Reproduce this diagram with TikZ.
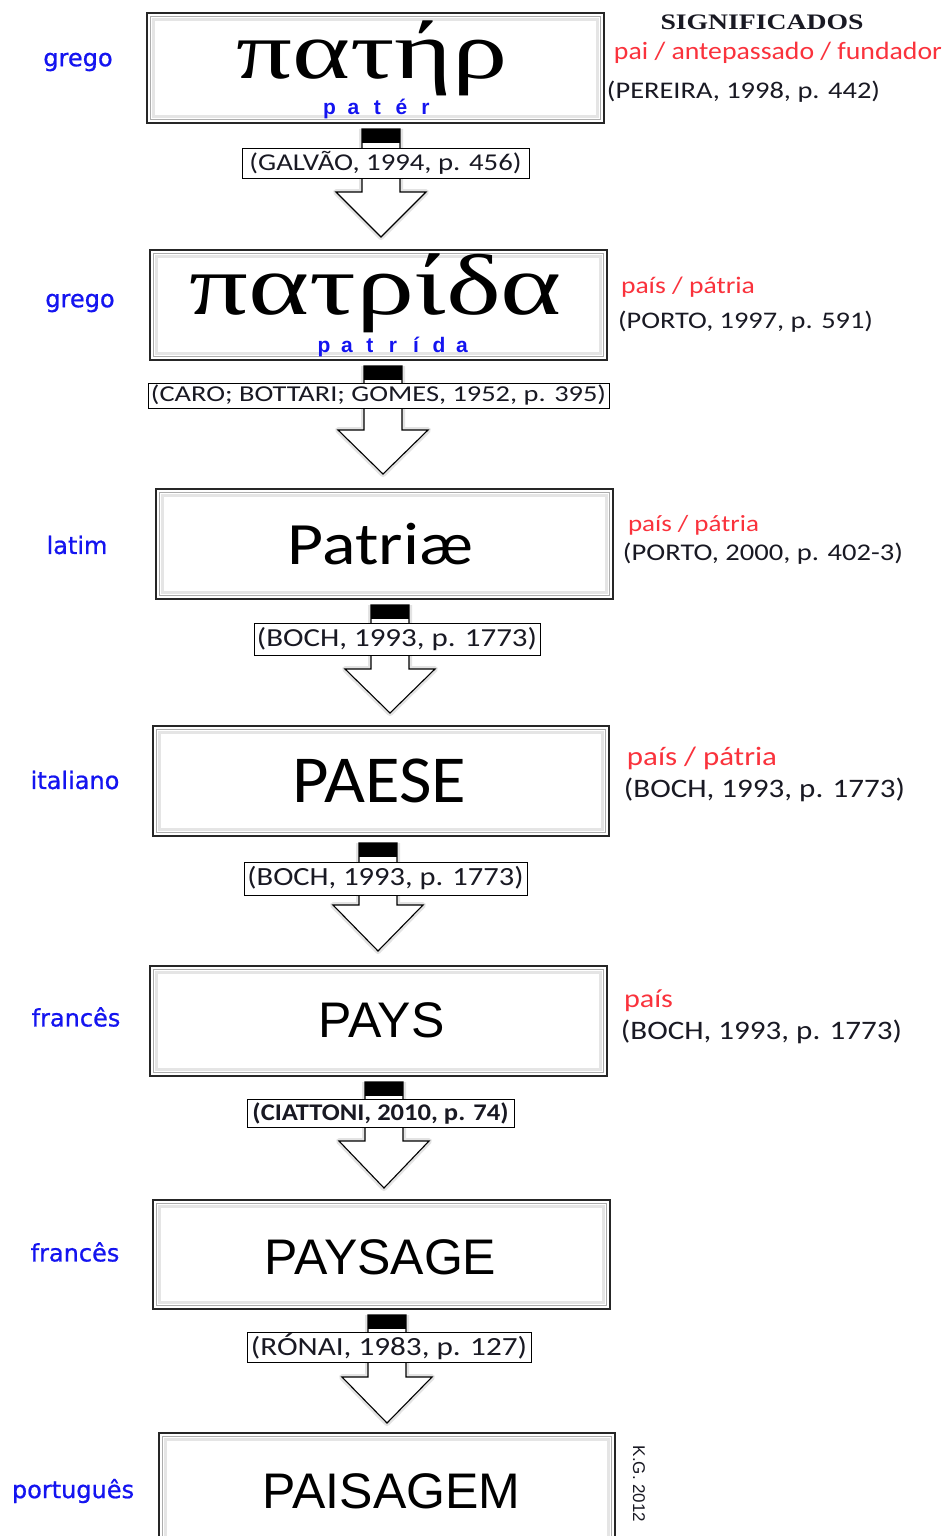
\documentclass[tikz,border=0pt]{standalone}
\usepackage{fontspec}
\usepackage{graphicx}
\setmainfont{Liberation Serif}
\newfontfamily\calfont{Carlito}
\newfontfamily\dvsfont[FakeBold=0.8]{DejaVu Sans}
\newfontfamily\arsfont{Liberation Sans}
\newfontfamily\grkfont{Liberation Serif}
\usetikzlibrary{fit}
\definecolor{lblue}{RGB}{20,20,240}
\definecolor{lred}{RGB}{250,50,60}
\definecolor{ink}{RGB}{25,25,35}
% width-fitted text, squeezed vertically
\newcommand\ftext[3]{\scalebox{1}[#2]{\resizebox{#1pt}{!}{#3}}}
\newcommand\lcell[1]{\makebox[24pt]{#1}}
\newcommand\mcell[1]{\makebox[23pt]{#1}}
\newcommand\wordbox[5]{%
  \node[wbox, fit={(#2,#3) (#4,#5)}] (#1) {};
  \draw[gray!20, line width=3pt] ([shift={(7,-7)}]#1.south west) rectangle ([shift={(-7,7)}]#1.north east);
  \draw[gray!65, line width=1.3pt] ([shift={(4,-4)}]#1.south west) rectangle ([shift={(-4,4)}]#1.north east);
}
\newcommand\bigarrow[4]{%
  \draw[gray!22, line width=6pt, line join=round]
    (#1-19,#2) -- (#1-19,#3) -- (#1-45,#3) -- (#1,#4) -- (#1+45,#3) -- (#1+19,#3) -- (#1+19,#2);
  \draw[black, line width=1.1pt, fill=white, line join=miter]
    (#1-19,#2) -- (#1-19,#3) -- (#1-45,#3) -- (#1,#4) -- (#1+45,#3) -- (#1+19,#3) -- (#1+19,#2) -- cycle;
  \fill[black] (#1-19,#2) rectangle (#1+19,#2+14);
}
\begin{document}
\begin{tikzpicture}[x=1pt,y=-1pt,
  wbox/.style={draw=black!85, line width=1.3pt, fill=white, inner sep=0pt},
  cbox/.style={draw=black, line width=1pt, fill=white, inner sep=0pt},
  lang/.style={text=lblue, font=\dvsfont\fontsize{24}{28}\selectfont, inner sep=0pt},
  txt/.style={inner sep=0pt, text=ink},
  red/.style={inner sep=0pt, text=lred},
  big/.style={inner sep=0pt, text=black}]
\useasboundingbox (0,0) rectangle (946,1536);
\fill[white] (0,0) rectangle (946,1536);
\clip (0,0) rectangle (946,1536);

% arrows (behind boxes and labels)
\bigarrow{381}{129}{192}{237}
\bigarrow{383}{366}{430}{474}
\bigarrow{390}{605}{669}{713}
\bigarrow{378}{843}{905}{951}
\bigarrow{384}{1082}{1141}{1188}
\bigarrow{387}{1315}{1377}{1423}

% word boxes
\wordbox{b1}{147}{13}{604}{123}
\wordbox{b2}{150}{250}{607}{360}
\wordbox{b3}{156}{489}{613}{599}
\wordbox{b4}{153}{726}{609}{836}
\wordbox{b5}{150}{966}{607}{1076}
\wordbox{b6}{153}{1200}{610}{1309}
\wordbox{b7}{159}{1433}{615}{1560}

% words
\node[big] (w1) at (372,58) {\ftext{271}{0.74}{\grkfont πατήρ}};
\node[inner sep=0pt, text=lblue, font=\arsfont\bfseries\fontsize{21}{24}\selectfont, anchor=base] (t1) at (377.5,114)
  {\lcell{p}\lcell{a}\lcell{t}\lcell{é}\lcell{r}};
\node[big] (w2) at (376,293) {\ftext{372}{0.74}{\grkfont πατρίδα}};
\node[inner sep=0pt, text=lblue, font=\arsfont\bfseries\fontsize{21}{24}\selectfont, anchor=base] (t2) at (393,352)
  {\mcell{p}\mcell{a}\mcell{t}\mcell{r}\mcell{í}\mcell{d}\mcell{a}};
\node[big] (w3) at (380.5,544) {\ftext{185}{0.86}{\calfont Patriæ}};
\node[big] (w4) at (379.5,781) {\ftext{173}{0.95}{\calfont PAESE}};
\node[big, font=\arsfont\fontsize{50}{56}\selectfont] (w5) at (381.5,1020) {PAYS};
\node[big, font=\arsfont\fontsize{50}{56}\selectfont] (w6) at (380.5,1257) {PAYSAGE};
\node[big, font=\arsfont\fontsize{50}{56}\selectfont] (w7) at (391.5,1491) {PAISAGEM};

% languages
\node[lang] (l1) at (78,62) {grego};
\node[lang] (l2) at (80,303) {grego};
\node[lang] (l3) at (77,545) {latim};
\node[lang] (l4) at (75,780) {italiano};
\node[lang] (l5) at (76,1017) {francês};
\node[lang] (l6) at (75,1252) {francês};
\node[lang] (l7) at (73,1491) {português};

% citation labels on the arrows
\node[cbox, minimum width=287, minimum height=30] (c1) at (385.5,163) {\ftext{272}{0.84}{\calfont\color{ink}(GALVÃO, 1994, p. 456)}};
\node[cbox, minimum width=461, minimum height=25] (c2) at (378.5,395.5) {\ftext{455}{0.80}{\calfont\color{ink}(CARO; BOTTARI; GOMES, 1952, p. 395)}};
\node[cbox, minimum width=286, minimum height=32] (c3) at (397,639) {\ftext{280}{0.84}{\calfont\color{ink}(BOCH, 1993, p. 1773)}};
\node[cbox, minimum width=283, minimum height=33] (c4) at (385.5,878.5) {\ftext{276}{0.86}{\calfont\color{ink}(BOCH, 1993, p. 1773)}};
\node[cbox, minimum width=267, minimum height=28] (c5) at (380.5,1113) {\ftext{256}{0.9}{\calfont\bfseries\color{ink}(CIATTONI, 2010, p. 74)}};
\node[cbox, minimum width=284, minimum height=30] (c6) at (389,1347) {\ftext{276}{0.84}{\calfont\color{ink}(RÓNAI, 1983, p. 127)}};

% meanings column
\node[txt] (h) at (762,22) {\ftext{203}{0.80}{\bfseries SIGNIFICADOS}};
\node[red] (m1) at (778,53) {\ftext{328}{0.90}{\calfont pai / antepassado / fundador}};
\node[txt] (r1) at (743.5,92) {\ftext{273}{0.84}{\calfont (PEREIRA, 1998, p. 442)}};
\node[red] (m2) at (688,287) {\ftext{134}{0.86}{\calfont país / pátria}};
\node[txt] (r2) at (745.5,322) {\ftext{255}{0.84}{\calfont (PORTO, 1997, p. 591)}};
\node[red] (m3) at (693.5,525) {\ftext{131}{0.86}{\calfont país / pátria}};
\node[txt] (r3) at (763,554) {\ftext{280}{0.84}{\calfont (PORTO, 2000, p. 402-3)}};
\node[red] (m4) at (702,758) {\ftext{150}{0.86}{\calfont país / pátria}};
\node[txt] (r4) at (764.5,790) {\ftext{281}{0.86}{\calfont (BOCH, 1993, p. 1773)}};
\node[red] (m5) at (648.5,1001) {\ftext{49}{0.86}{\calfont país}};
\node[txt] (r5) at (761.5,1032) {\ftext{281}{0.86}{\calfont (BOCH, 1993, p. 1773)}};

% signature
\node[txt, rotate=-90, font=\arsfont\fontsize{17}{20}\selectfont] (sig) at (639,1484) {K.G. 2012};
\end{tikzpicture}
\end{document}
